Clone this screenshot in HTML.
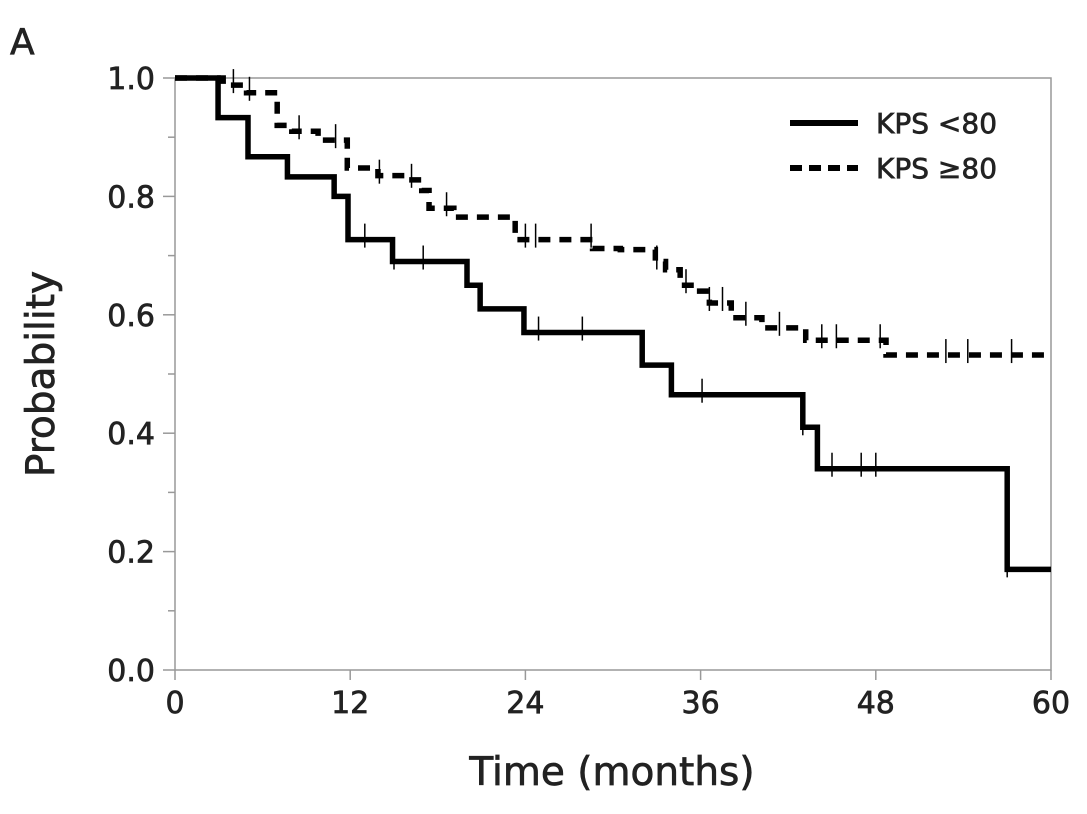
<!DOCTYPE html>
<html><head><meta charset="utf-8"><style>
body{margin:0;background:#fff;}
svg text{font-family:"DejaVu Sans","Liberation Sans",sans-serif;fill:#222;stroke:#222;stroke-width:0.7px;}
</style></head><body>
<svg id="c" width="1087" height="809" viewBox="0 0 1087 809" xmlns="http://www.w3.org/2000/svg">
<text x="10" y="54" font-size="36">A</text>
<rect x="175" y="78" width="876" height="592" fill="none" stroke="#999" stroke-width="1.5"/>
<g id="axes"></g>
<g id="series"></g>
<text x="612" y="785" font-size="39" text-anchor="middle">Time (months)</text>
<text transform="translate(54,374) rotate(-90)" font-size="39" text-anchor="middle">Probability</text>
<g>
<line x1="790" y1="123" x2="858" y2="123" stroke="#000" stroke-width="6"/>
<text x="876" y="133" font-size="28">KPS &lt;80</text>
<line x1="790" y1="168" x2="858" y2="168" stroke="#000" stroke-width="6" stroke-dasharray="12,7"/>
<text x="876" y="178" font-size="28">KPS ≥80</text>
</g>
</svg>
<script>
const xTicks=[0,12,24,36,48,60];
const yTicks=[0.0,0.2,0.4,0.6,0.8,1.0];
const lowTimes=[2.95,5,7.7,10.9,11.85,14.9,20,20.9,23.9,32,34,43,44,57];
const lowSurv=[0.933,0.867,0.833,0.80,0.727,0.69,0.65,0.61,0.57,0.515,0.465,0.41,0.34,0.17];
const lowCens=[13,15,17,24.9,27.9,36.1,43,45,47,48,57];
const highTimes=[3.3,4.9,7,8,9.8,11.8,13.9,15.8,16.9,17.4,19.1,23.3,28.6,30.5,32.9,33.6,34.6,35.6,36.6,38.1,40.2,43.2,48.7];
const highSurv=[0.988,0.975,0.92,0.91,0.895,0.848,0.835,0.828,0.81,0.78,0.765,0.727,0.712,0.71,0.69,0.676,0.65,0.64,0.62,0.595,0.578,0.557,0.532];
const highCens=[4,5.1,8.5,11,14,16.2,18.6,24,24.7,28.5,33,35,36.6,37.5,39.1,41.4,44.3,45.3,48.3,52.8,54.3,57.3];
const NS="http://www.w3.org/2000/svg";
const X=t=>175+t*(876/60), Y=p=>670-p*592;
function mk(tag,attrs,parent){const e=document.createElementNS(NS,tag);for(const k in attrs)e.setAttribute(k,attrs[k]);parent.appendChild(e);return e;}
const ax=document.getElementById('axes'), se=document.getElementById('series');
xTicks.forEach(t=>{
 const l=mk('line',{x1:X(t),x2:X(t),y1:670,y2:680,stroke:'#999','stroke-width':1.5},ax);
 
 
 const tx=mk('text',{x:X(t),y:713,'font-size':30,'text-anchor':'middle'},ax);tx.textContent=t;
 
 
});
for(let i=0;i<=10;i++){const p=i/10;
 const l=mk('line',{x1:i%2?168:163,x2:175,y1:Y(p),y2:Y(p),stroke:'#999','stroke-width':1.5},ax);
 
 }
yTicks.forEach(p=>{
 const tx=mk('text',{x:155,y:Y(p)+11,'font-size':30,'text-anchor':'end'},ax);tx.textContent=p.toFixed(1);
 
 
});
function stepPath(times,surv){let d='M'+X(0)+','+Y(1);
 times.forEach((t,i)=>{d+=' H'+X(t)+' V'+Y(surv[i]);});d+=' H'+X(60);return d;}
function survAt(times,surv,t){let s=1;times.forEach((tt,i)=>{if(tt<=t)s=surv[i];});return s;}
const p1=mk('path',{d:stepPath(lowTimes,lowSurv),fill:'none',stroke:'#000','stroke-width':5.5},se);


const p2=mk('path',{d:stepPath(highTimes,highSurv),fill:'none',stroke:'#000','stroke-width':5.5,'stroke-dasharray':'12,9'},se);


function cens(c,times,surv,name){c.forEach(t=>{const y=Y(survAt(times,surv,t));
 const l=mk('line',{x1:X(t),x2:X(t),y1:y-16,y2:y+8,stroke:'#000','stroke-width':1.5},se);
 
 });}
cens(lowCens,lowTimes,lowSurv,'kps-lt80-censor');
cens(highCens,highTimes,highSurv,'kps-ge80-censor');
</script>
</body></html>
